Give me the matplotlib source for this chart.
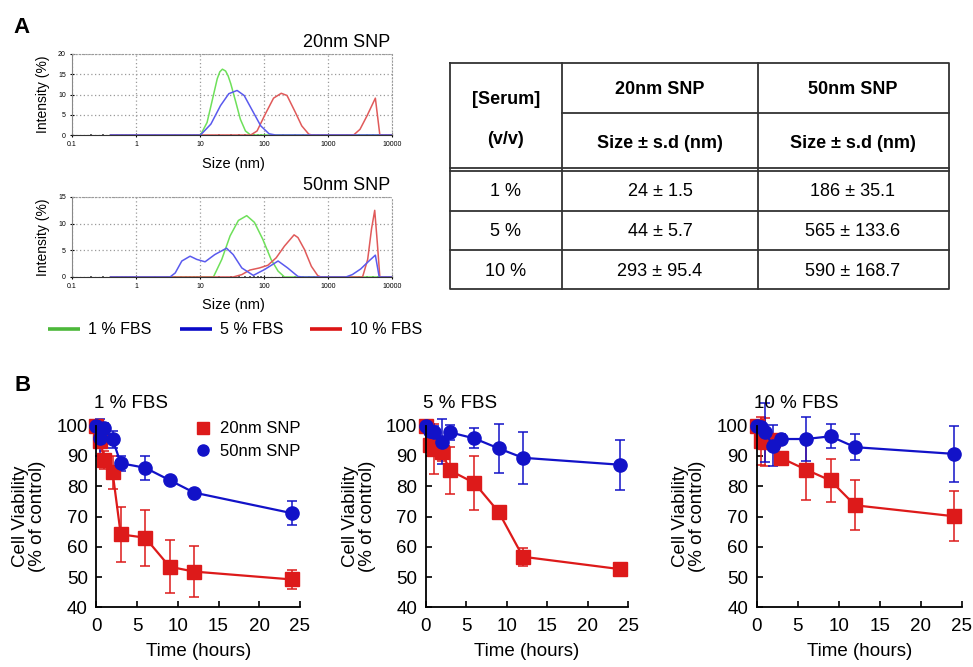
import numpy as np
import matplotlib
matplotlib.use('Agg')
import matplotlib.pyplot as plt
from matplotlib.lines import Line2D

plt.rcParams['font.family'] = ['Liberation Sans', 'DejaVu Sans']

# ---- DLS size distributions (size in nm, intensity in %) ----
g20_size = [0.4, 10.2, 12.9, 15.5, 18.6, 20.4, 22.4, 25.1, 27.5, 30.2, 36.3, 42.7, 51.3, 61.7, 10000]
g20_int = [0, 0, 3.1, 8.5, 13.9, 15.6, 16.25, 15.8, 14.6, 12.7, 8.1, 3.9, 1.0, 0, 0]
b20_size = [0.4, 10.2, 14.8, 20.9, 28.2, 38.0, 49.0, 66.0, 89.0, 120, 151, 10000]
b20_int = [0, 0, 2.7, 7.25, 10.2, 11.0, 9.75, 6.0, 2.25, 0.3, 0, 0]
r20_size = [0.4, 62, 78, 105, 141, 186, 229, 309, 389, 501, 562,
            2512, 3162, 4074, 5495, 6457, 10000]
r20_int = [0, 0, 1.0, 5.2, 9.1, 10.3, 9.75, 5.6, 2.25, 0.2, 0,
           0, 1.4, 4.75, 9.1, 0, 0]

g50_size = [0.4, 16.2, 21.9, 29.5, 39.8, 53.7, 70.8, 95.5, 129, 166, 209, 10000]
g50_int = [0, 0, 3.3, 7.7, 10.6, 11.5, 10.25, 7.1, 3.3, 1.1, 0, 0]
b50_size = [0.4, 3.4, 4.1, 5.2, 7.0, 8.9, 12, 17, 26, 33, 45, 68, 102, 166, 234, 339, 398,
            1905, 2399, 3236, 4365, 5495, 6310, 10000]
b50_int = [0, 0, 0.76, 3.0, 3.9, 3.3, 2.85, 4.2, 5.4, 4.2, 1.7, 0.3, 1.4, 3.0, 1.7, 0.1, 0,
           0, 0.45, 1.5, 3.0, 4.1, 0, 0]
r50_size = [0.4, 33, 45, 60, 85, 115, 155, 209, 295, 339, 427, 550, 692, 776,
            3467, 4169, 4786, 5370, 5888, 6457, 10000]
r50_int = [0, 0, 0.45, 1.3, 1.7, 2.2, 3.6, 5.8, 7.9, 7.4, 5.2, 2.0, 0.25, 0,
           0, 3.3, 9.0, 12.5, 6.5, 0, 0]

fbs_labels = ['1 % FBS', '5 % FBS', '10 % FBS']

# ---- table ----
serum = ['1 %', '5 %', '10 %']
mean20 = [24, 44, 293]
sd20 = [1.5, 5.7, 95.4]
mean50 = [186, 565, 590]
sd50 = [35.1, 133.6, 168.7]

# ---- cell viability ----
t = [0, 0.5, 1, 2, 3, 6, 9, 12, 24]
r1 = [100, 94.9, 88.7, 84.6, 64.1, 63.0, 53.4, 51.8, 49.2]
r1e = [0, 2, 3, 5.5, 9, 9.3, 8.8, 8.4, 3]
b1 = [100, 96.1, 99.3, 95.5, 87.6, 86.1, 82.0, 77.9, 71.1]
b1e = [0, 6, 1.5, 2.9, 2.5, 4, 0, 0, 4]
r5 = [100, 93.6, 92.3, 91.2, 85.2, 81.1, 71.5, 56.7, 52.6]
r5e = [0, 2, 8.4, 3, 7.8, 9, 0, 3, 0]
b5 = [100, 98.4, 98, 94.7, 97.8, 95.8, 92.5, 89.4, 87.1]
b5e = [0, 2, 2, 7.5, 2.4, 3.3, 8, 8.6, 8.2]
r10 = [100, 95, 94.7, 95.4, 89.3, 85.5, 81.9, 73.7, 70.1]
r10e = [0, 8, 8, 0, 1, 10, 7, 8.3, 8.2]
b10 = [100, 99.5, 97.8, 93.4, 95.6, 95.6, 96.5, 92.9, 90.7]
b10e = [0, 1, 9.8, 6.7, 1.5, 7.3, 4, 4.2, 9.3]

RED = '#dd1a1a'
BLUE = '#1212c8'

W, H = 973, 667
fig = plt.figure(figsize=(W / 100, H / 100), dpi=100)


def px(l, t_, r, b):
    # pixel box -> figure fraction
    return [l / W, 1 - b / H, (r - l) / W, (b - t_) / H]


# ---- panel A: DLS ----
def dls(ax, curves, ymax, title):
    for s, v, c in curves:
        ax.plot(s, v, color=c, lw=1.1)
    ax.set_xscale('log')
    ax.set_xlim(0.1, 10000)
    ax.set_ylim(0, ymax)
    ax.set_yticks(range(0, ymax + 1, 5))
    ax.set_xticks([0.1, 1, 10, 100, 1000, 10000])
    ax.set_xticklabels(['0.1', '1', '10', '100', '1000', '10000'])
    ax.grid(True, which='major', ls=(0, (1, 2)), color='#9a9a9a', lw=0.9)
    ax.tick_params(which='major', labelsize=5, length=3, direction='inout', pad=3)
    ax.tick_params(which='minor', length=2, width=1.2, direction='inout', color='#444444')
    for sp in ['top', 'right']:
        ax.spines[sp].set_linestyle((0, (1, 2)))
        ax.spines[sp].set_color('#9a9a9a')
    ax.spines['left'].set_color('#888888')
    ax.spines['bottom'].set_color('#333333')
    ax.set_ylabel('Intensity (%)', fontsize=10)
    ax.yaxis.set_label_coords(-0.07, 0.5)
    ax.set_xlabel('Size (nm)', fontsize=10.5)
    ax.text(0.994, 1.09, title, transform=ax.transAxes, ha='right', va='baseline', fontsize=13)


GREEN_L, BLUE_L, RED_L = '#6ee05a', '#5a5aee', '#e05a5a'
ax20 = fig.add_axes(px(72, 54, 392, 135))
dls(ax20, [(g20_size, g20_int, GREEN_L), (r20_size, r20_int, RED_L), (b20_size, b20_int, BLUE_L)],
    20, '20nm SNP')
ax20.xaxis.set_label_coords(0.506, -0.27)
ax50 = fig.add_axes(px(72, 197, 392, 277))
dls(ax50, [(g50_size, g50_int, GREEN_L), (r50_size, r50_int, RED_L), (b50_size, b50_int, BLUE_L)],
    15, '50nm SNP')
ax50.xaxis.set_label_coords(0.506, -0.26)

# overlay in pixel coordinates for labels, legend and table
ov = fig.add_axes([0, 0, 1, 1])
ov.set_xlim(0, W)
ov.set_ylim(H, 0)
ov.axis('off')

ov.text(13, 33, 'A', fontsize=16, fontweight='bold', va='baseline')
ov.text(14, 391, 'B', fontsize=16, fontweight='bold', va='baseline')

leg_cols = ['#4cb83a', '#0a0ac8', '#dc1414']
for lab, c, x0 in zip(fbs_labels, leg_cols, [48, 180, 310]):
    ov.plot([x0, x0 + 32], [329, 329], color=c, lw=2.6, solid_capstyle='butt')
    ov.text(x0 + 40, 329, lab, fontsize=11.5, va='center')

# table
tl, tr, tt, tb = 450, 949, 63, 289
c1, c2 = 562, 758
lw_t = 1.3
ov.plot([tl, tr, tr, tl, tl], [tt, tt, tb, tb, tt], color='#333333', lw=lw_t)
ov.plot([c1, c1], [tt, tb], color='#333333', lw=lw_t)
ov.plot([c2, c2], [tt, tb], color='#333333', lw=lw_t)
ov.plot([c1, tr], [113, 113], color='#333333', lw=lw_t)
ov.plot([tl, tr], [167.5, 167.5], color='#333333', lw=lw_t)
ov.plot([tl, tr], [170.5, 170.5], color='#333333', lw=lw_t)
for y in [211, 250]:
    ov.plot([tl, tr], [y, y], color='#333333', lw=lw_t)

xc0, xc1, xc2 = 506, 660, 853
ov.text(xc0, 100, '[Serum]', ha='center', va='center', fontsize=13, fontweight='bold')
ov.text(xc0, 139, '(v/v)', ha='center', va='center', fontsize=13, fontweight='bold')
ov.text(xc1, 90, '20nm SNP', ha='center', va='center', fontsize=13, fontweight='bold')
ov.text(xc2, 90, '50nm SNP', ha='center', va='center', fontsize=13, fontweight='bold')
ov.text(xc1, 144, 'Size ± s.d (nm)', ha='center', va='center', fontsize=13, fontweight='bold')
ov.text(xc2, 144, 'Size ± s.d (nm)', ha='center', va='center', fontsize=13, fontweight='bold')
for i, yc in enumerate([192, 232, 271]):
    ov.text(xc0, yc, serum[i], ha='center', va='center', fontsize=13)
    ov.text(xc1, yc, f'{mean20[i]} ± {sd20[i]}', ha='center', va='center', fontsize=13)
    ov.text(xc2, yc, f'{mean50[i]} ± {sd50[i]}', ha='center', va='center', fontsize=13)

# ---- panel B: viability ----
boxes = [(96.3, 300), (425.7, 628.3), (756.7, 961.7)]
series = [(r1, r1e, b1, b1e), (r5, r5e, b5, b5e), (r10, r10e, b10, b10e)]
for k, ((l, r), (rv, re, bv, be)) in enumerate(zip(boxes, series)):
    ax = fig.add_axes(px(l, 425.7, r, 607.3))
    ax.patch.set_alpha(0)
    cr = ax.errorbar(t, rv, yerr=re, color=RED, marker='s', ms=9.5, lw=1.6,
                     elinewidth=1.1, capsize=3.5, capthick=1.1)
    cb = ax.errorbar(t, bv, yerr=be, color=BLUE, marker='o', ms=9.5, lw=1.6,
                     elinewidth=1.1, capsize=3.5, capthick=1.1)
    for cont in (cr, cb):
        for a in cont.get_children():
            a.set_clip_on(False)
    ax.set_xlim(0, 25)
    ax.set_ylim(40, 100)
    ax.set_xticks(range(0, 26, 5))
    ax.set_yticks(range(40, 101, 10))
    for sp in ['top', 'right']:
        ax.spines[sp].set_visible(False)
    for sp in ['left', 'bottom']:
        ax.spines[sp].set_linewidth(1.3)
    ax.tick_params(direction='in', length=4, width=1.2, labelsize=13.5)
    ax.tick_params(axis='x', pad=8)
    ax.tick_params(axis='y', pad=6)
    ax.set_xlabel('Time (hours)', fontsize=13.5)
    ax.xaxis.set_label_coords(0.5, -0.195)
    ax.set_ylabel('Cell Viability\n(% of control)', fontsize=13.5, linespacing=1.0)
    ax.yaxis.set_label_coords(-0.245, 0.5)
    ax.text(-0.012, 1.125, fbs_labels[k], transform=ax.transAxes, ha='left', va='center',
            fontsize=13.5)
    if k == 0:
        handles = [Line2D([], [], color=RED, marker='s', ls='none', ms=8),
                   Line2D([], [], color=BLUE, marker='o', ls='none', ms=8)]
        ax.legend(handles, ['20nm SNP', '50nm SNP'], loc='upper left',
                  bbox_to_anchor=(0.45, 1.06), frameon=False, fontsize=12,
                  handlelength=1.0, handletextpad=0.5, borderaxespad=0, labelspacing=0.45)

fig.savefig('out.png', dpi=100, facecolor='white')
